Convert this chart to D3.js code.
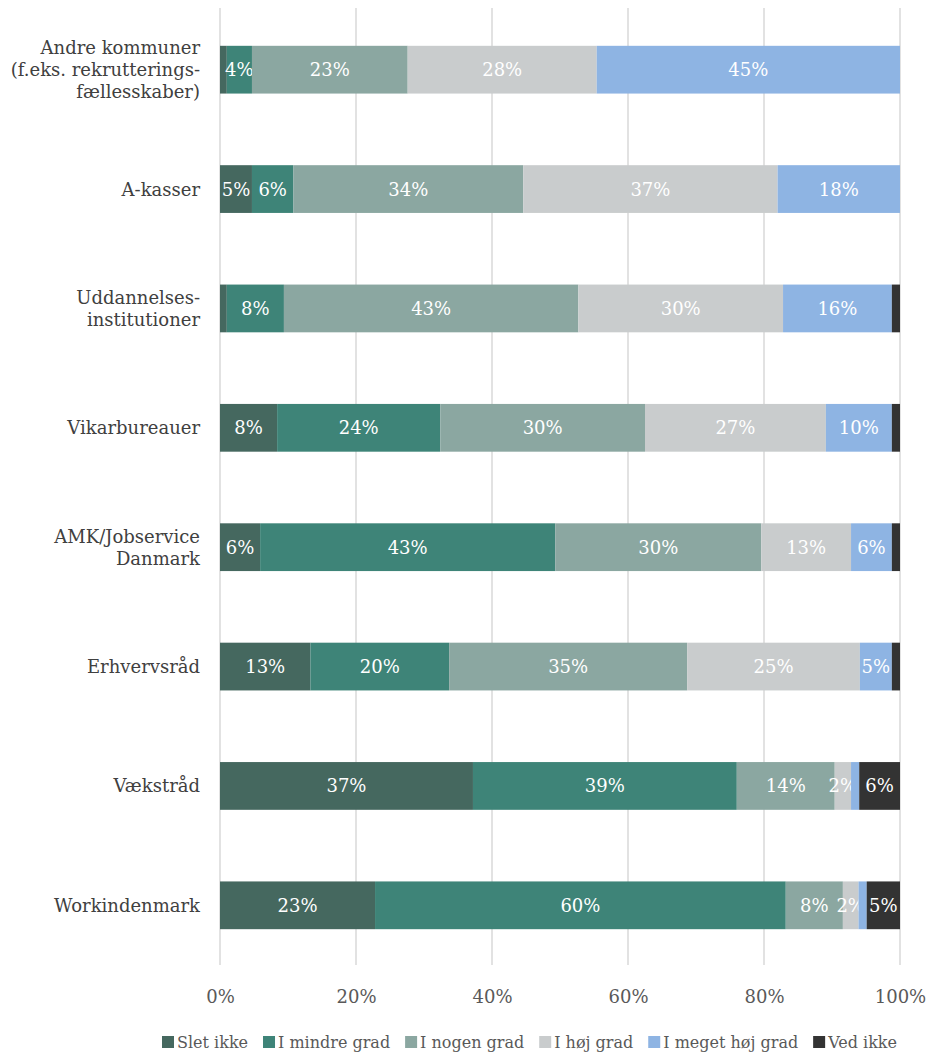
<!DOCTYPE html>
<html>
<head>
<meta charset="utf-8">
<script src="https://cdn.jsdelivr.net/npm/d3@7"></script>
<style>
  html, body { margin: 0; padding: 0; background: #ffffff; }
  svg { display: block; font-family: "DejaVu Serif", "Liberation Serif", serif; }
</style>
</head>
<body>
<svg id="chart" width="928" height="1054"></svg>
<script>
// Rows, top to bottom. Multi-line names are split on "|".
const categories = [
  "Andre kommuner|(f.eks. rekrutterings-|fællesskaber)",
  "A-kasser",
  "Uddannelses-|institutioner",
  "Vikarbureauer",
  "AMK/Jobservice|Danmark",
  "Erhvervsråd",
  "Vækstråd",
  "Workindenmark"
];

const seriesNames = ["Slet ikke", "I mindre grad", "I nogen grad", "I høj grad", "I meget høj grad", "Ved ikke"];
const seriesColors = ["#45685f", "#3e8478", "#8ba7a1", "#c9cccd", "#8eb4e3", "#333333"];

// Share of answers (%) per series, one value per row
const sletIkke      = [1.0, 4.7, 1.0, 8.4, 5.9, 13.3, 37.2, 22.8];
const iMindreGrad   = [3.7, 6.1, 8.4, 24.0, 43.4, 20.4, 38.8, 60.4];
const iNogenGrad    = [22.9, 33.8, 43.3, 30.1, 30.3, 35.0, 14.4, 8.4];
const iHoejGrad     = [27.8, 37.4, 30.1, 26.6, 13.2, 25.4, 2.4, 2.3];
const iMegetHoejGrad= [44.6, 18.0, 16.0, 9.7, 6.0, 4.7, 1.2, 1.2];
const vedIkke       = [0.0, 0.0, 1.2, 1.2, 1.2, 1.2, 6.0, 4.9];

const tickValues = [0, 20, 40, 60, 80, 100];

const seriesValues = [sletIkke, iMindreGrad, iNogenGrad, iHoejGrad, iMegetHoejGrad, vedIkke];

const rows = categories.map((c, i) => {
  const r = { category: c };
  seriesNames.forEach((s, k) => { r[s] = seriesValues[k][i]; });
  return r;
});

const svg = d3.select("#chart");
const plotLeft = 220, plotRight = 900, plotTop = 10, plotBottom = 965;

const x = d3.scaleLinear().domain([0, 100]).range([plotLeft, plotRight]);
const y = d3.scaleBand().domain(categories).range([plotTop, plotBottom]).paddingInner(0.6).paddingOuter(0.3);
const color = d3.scaleOrdinal().domain(seriesNames).range(seriesColors);

// Vertical gridlines
svg.append("g")
  .selectAll("line")
  .data(tickValues)
  .join("line")
  .attr("x1", d => x(d)).attr("x2", d => x(d))
  .attr("y1", 8).attr("y2", plotBottom)
  .attr("stroke", "#d9d9d9")
  .attr("stroke-width", 1.5);

// Stacked bars
const stacked = d3.stack().keys(seriesNames)(rows);

const layers = svg.append("g")
  .selectAll("g")
  .data(stacked)
  .join("g")
  .attr("fill", d => color(d.key));

layers.selectAll("rect")
  .data(d => d)
  .join("rect")
  .attr("x", d => x(d[0]))
  .attr("y", d => y(d.data.category))
  .attr("width", d => x(d[1]) - x(d[0]))
  .attr("height", y.bandwidth());

// Value labels on segments (value read from the row, not from stack offsets)
layers.selectAll("text")
  .data(d => d.map(p => ({ p, v: p.data[d.key] })).filter(o => Math.round(o.v) >= 2))
  .join("text")
  .attr("x", o => (x(o.p[0]) + x(o.p[1])) / 2)
  .attr("y", o => y(o.p.data.category) + y.bandwidth() / 2)
  .attr("dy", "0.36em")
  .attr("text-anchor", "middle")
  .attr("fill", "#ffffff")
  .attr("font-size", 18)
  .text(o => Math.round(o.v) + "%");

// Category labels
const catG = svg.append("g");
categories.forEach(c => {
  const lines = c.split("|");
  const cy = y(c) + y.bandwidth() / 2;
  const lh = 22;
  const t = catG.append("text")
    .attr("text-anchor", "end")
    .attr("fill", "#404040")
    .attr("font-size", 18);
  lines.forEach((ln, i) => {
    t.append("tspan")
      .attr("x", 200)
      .attr("y", cy + (i - (lines.length - 1) / 2) * lh)
      .attr("dy", "0.36em")
      .text(ln);
  });
});

// X axis tick labels
const axis = svg.append("g")
  .attr("transform", `translate(0,${plotBottom})`)
  .call(d3.axisBottom(x).tickValues(tickValues).tickFormat(d => d + "%").tickSize(0).tickPadding(25));
axis.select(".domain").remove();
axis.selectAll("text")
  .attr("font-family", "DejaVu Serif, serif")
  .attr("font-size", 18)
  .attr("fill", "#595959");

// Legend
const legend = svg.append("g").attr("transform", "translate(0,1042)");
const items = legend.selectAll("g")
  .data(seriesNames)
  .join("g");
items.append("rect")
  .attr("width", 12).attr("height", 12)
  .attr("y", -6)
  .attr("fill", d => color(d));
items.append("text")
  .attr("x", 15)
  .attr("dy", "0.36em")
  .attr("font-size", 16)
  .attr("fill", "#595959")
  .text(d => d);

const widths = [];
items.each(function () { widths.push(15 + d3.select(this).select("text").node().getComputedTextLength()); });
const legStart = 162, legEnd = 897;
const gap = (legEnd - legStart - d3.sum(widths)) / (widths.length - 1);
let cx = legStart;
items.each(function (d, i) {
  d3.select(this).attr("transform", `translate(${cx},0)`);
  cx += widths[i] + gap;
});
</script>
</body>
</html>
